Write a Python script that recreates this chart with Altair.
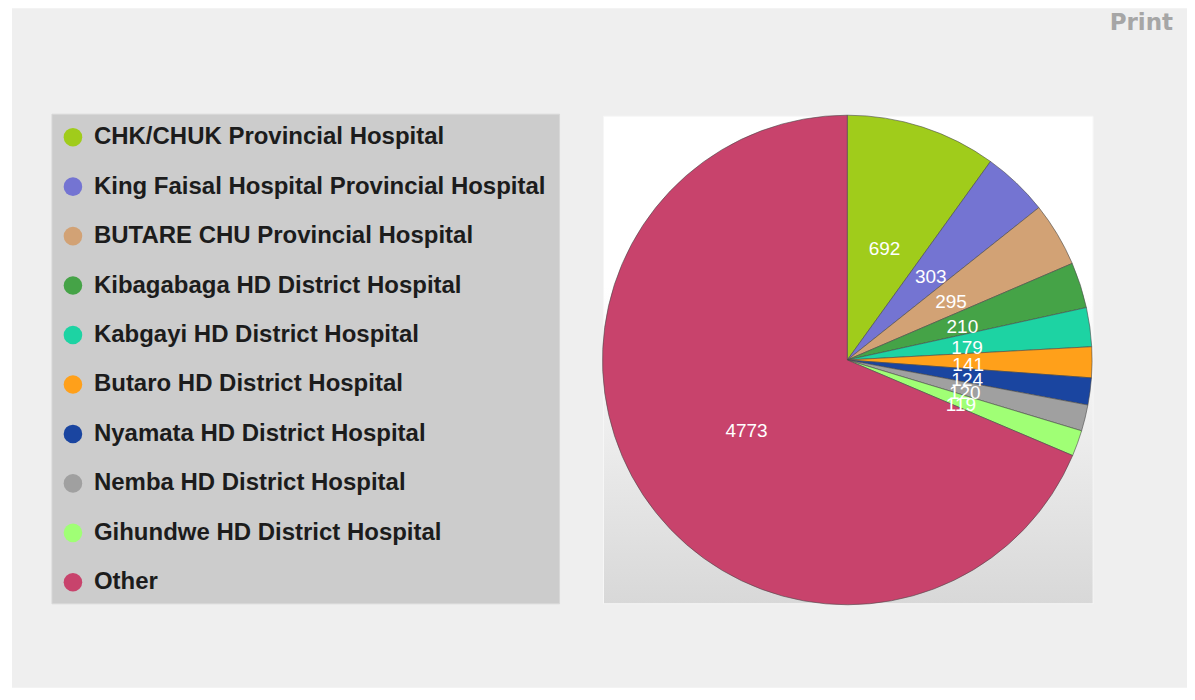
import altair as alt
import pandas as pd

categories = [
    "CHK/CHUK Provincial Hospital",
    "King Faisal Hospital Provincial Hospital",
    "BUTARE CHU Provincial Hospital",
    "Kibagabaga HD District Hospital",
    "Kabgayi HD District Hospital",
    "Butaro HD District Hospital",
    "Nyamata HD District Hospital",
    "Nemba HD District Hospital",
    "Gihundwe HD District Hospital",
    "Other",
]
values = [692, 303, 295, 210, 179, 141, 124, 120, 119, 4773]
colors = ["#a0cc1b", "#7474d2", "#d2a275", "#45a347", "#1dd3a3",
          "#ffa01a", "#1a45a0", "#a0a0a0", "#a0ff75", "#c8436c"]

df = pd.DataFrame({"category": categories, "value": values, "idx": list(range(len(values)))})
one = pd.DataFrame({"a": [0]})

CX, CY, R = 840, 352, 245

bg = alt.Chart(one).mark_rect(color="#efefef").encode(
    x=alt.value(4), x2=alt.value(1184), y=alt.value(0), y2=alt.value(680))

legend_box = alt.Chart(one).mark_rect(color="#cccccc", stroke="#d8d8d8", strokeWidth=1).encode(
    x=alt.value(44), x2=alt.value(552), y=alt.value(106), y2=alt.value(596))

pie_panel = alt.Chart(one).mark_rect(
    fill=alt.LinearGradient(
        gradient="linear", x1=0, y1=0, x2=0, y2=1,
        stops=[alt.GradientStop(color="#ffffff", offset=0),
               alt.GradientStop(color="#ffffff", offset=0.35),
               alt.GradientStop(color="#d8d8d8", offset=1)]),
    stroke="#f6f6f6", strokeWidth=1).encode(
    x=alt.value(596), x2=alt.value(1086), y=alt.value(108), y2=alt.value(596))

print_text = alt.Chart(one).mark_text(
    text="Print", font="DejaVu Sans", fontSize=23, fontWeight="bold",
    color="#a6a6a6", align="right", baseline="middle").encode(
    x=alt.value(1166), y=alt.value(15))

arcs = alt.Chart(df).mark_arc(radius=R, stroke="#4a4a4a", strokeWidth=0.6).encode(
    theta=alt.Theta("value:Q", stack=True),
    order=alt.Order("idx:Q"),
    color=alt.Color(
        "category:N",
        sort=categories,
        scale=alt.Scale(domain=categories, range=colors),
        legend=alt.Legend(
            orient="none", legendX=53, legendY=117, title=None,
            symbolType="circle", symbolSize=346, symbolStrokeWidth=0,
            symbolOpacity=1, labelFont="Liberation Sans", labelFontSize=24,
            labelFontWeight="bold", labelColor="#1c1c1c", labelOffset=9,
            rowPadding=25.5, padding=0, labelLimit=700,
        ),
    ),
    x=alt.value(CX), y=alt.value(CY),
)

labels = alt.Chart(df).mark_text(
    radius=121, dy=4, font="Liberation Sans", fontSize=19, color="white").encode(
    theta=alt.Theta("value:Q", stack=True),
    order=alt.Order("idx:Q"),
    text="value:Q",
    x=alt.value(CX), y=alt.value(CY),
)

chart = alt.layer(bg, legend_box, pie_panel, print_text, arcs, labels).properties(
    width=1180, height=680,
    autosize=alt.AutoSizeParams(type="none"),
    padding=0, background="white",
).configure_view(stroke=None)

chart.save("out.html", embed_options={"renderer": "svg", "actions": False})
